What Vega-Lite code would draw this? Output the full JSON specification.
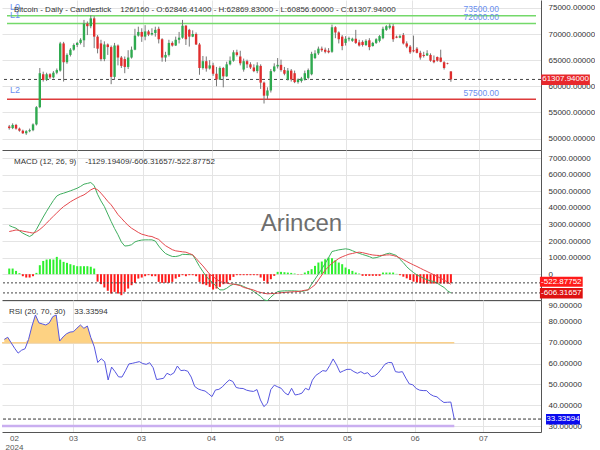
{
  "$schema": "https://vega.github.io/schema/vega-lite/v6.json",
  "padding": 0,
  "background": "#ffffff",
  "spacing": 0,
  "bounds": "flush",
  "config": {
    "font": "Liberation Sans",
    "view": {"stroke": null},
    "axis": {"labelFont": "Liberation Sans", "labelFontSize": 8, "labelColor": "#333333", "gridColor": "#e4e4e4", "domainColor": "#555555", "ticks": false, "title": null, "labelOverlap": false}
  },
  "datasets": {
    "bars": [
      {"i":0,"o":52300,"h":52600,"l":51700,"c":52000,"macd":2938,"sig":2576,"hist":342,"rsi":71.6},
      {"i":1,"o":52000,"h":52900,"l":51800,"c":52600,"macd":2850,"sig":2620,"hist":342,"rsi":72.6},
      {"i":2,"o":52600,"h":52800,"l":51700,"c":51900,"macd":2777,"sig":2670,"hist":200,"rsi":69.9},
      {"i":3,"o":51900,"h":52100,"l":51300,"c":51500,"macd":2620,"sig":2640,"hist":60,"rsi":67.3},
      {"i":4,"o":51500,"h":51700,"l":50900,"c":51000,"macd":2475,"sig":2600,"hist":-121,"rsi":65.0},
      {"i":5,"o":51000,"h":51600,"l":50700,"c":51400,"macd":2370,"sig":2560,"hist":-201,"rsi":66.4},
      {"i":6,"o":51400,"h":51900,"l":51200,"c":51600,"macd":2274,"sig":2520,"hist":-201,"rsi":67.1},
      {"i":7,"o":51600,"h":52900,"l":51400,"c":52700,"macd":2400,"sig":2480,"hist":-121,"rsi":71.5},
      {"i":8,"o":52700,"h":56200,"l":52500,"c":56000,"macd":2700,"sig":2560,"hist":80,"rsi":78},
      {"i":9,"o":56000,"h":63500,"l":55800,"c":62500,"macd":3079,"sig":2700,"hist":543,"rsi":83.3},
      {"i":10,"o":62300,"h":62800,"l":60900,"c":61200,"macd":3450,"sig":2877,"hist":800,"rsi":79.5},
      {"i":11,"o":61200,"h":62600,"l":61000,"c":62300,"macd":3800,"sig":3080,"hist":885,"rsi":79.0},
      {"i":12,"o":62300,"h":62500,"l":61400,"c":61700,"macd":4130,"sig":3300,"hist":905,"rsi":78.5},
      {"i":13,"o":61700,"h":62900,"l":61500,"c":62600,"macd":4450,"sig":3500,"hist":885,"rsi":79.5},
      {"i":14,"o":62600,"h":63400,"l":62300,"c":63100,"macd":4720,"sig":3700,"hist":1046,"rsi":82.5},
      {"i":15,"o":63000,"h":68500,"l":62800,"c":68200,"macd":4830,"sig":3900,"hist":885,"rsi":83.3},
      {"i":16,"o":68200,"h":68500,"l":60900,"c":64600,"macd":4890,"sig":4085,"hist":744,"rsi":70.8},
      {"i":17,"o":64600,"h":66300,"l":64300,"c":66000,"macd":4960,"sig":4220,"hist":684,"rsi":72.8},
      {"i":18,"o":66000,"h":67300,"l":65700,"c":67000,"macd":5030,"sig":4370,"hist":604,"rsi":74.3},
      {"i":19,"o":67000,"h":68200,"l":66800,"c":67900,"macd":5110,"sig":4487,"hist":543,"rsi":75.1},
      {"i":20,"o":67900,"h":68500,"l":67500,"c":68300,"macd":5190,"sig":4600,"hist":483,"rsi":75.3},
      {"i":21,"o":68300,"h":69200,"l":68000,"c":68900,"macd":5300,"sig":4700,"hist":483,"rsi":77},
      {"i":22,"o":68800,"h":72700,"l":67500,"c":72000,"macd":5433,"sig":4789,"hist":483,"rsi":78.5},
      {"i":23,"o":72000,"h":72400,"l":69800,"c":71500,"macd":5480,"sig":4930,"hist":483,"rsi":76.9},
      {"i":24,"o":71500,"h":73600,"l":71100,"c":73000,"macd":5533,"sig":5091,"hist":450,"rsi":78},
      {"i":25,"o":73000,"h":73400,"l":67300,"c":69500,"macd":5350,"sig":5191,"hist":342,"rsi":72.5},
      {"i":26,"o":69500,"h":69800,"l":66300,"c":67200,"macd":4820,"sig":5100,"hist":-450,"rsi":68},
      {"i":27,"o":68200,"h":68900,"l":64800,"c":65200,"macd":4420,"sig":4890,"hist":-600,"rsi":60.5},
      {"i":28,"o":65200,"h":68600,"l":64800,"c":68000,"macd":4085,"sig":4650,"hist":-800,"rsi":62.3},
      {"i":29,"o":68000,"h":68200,"l":66000,"c":67500,"macd":3630,"sig":4400,"hist":-1000,"rsi":60.9},
      {"i":30,"o":67500,"h":67800,"l":60400,"c":61800,"macd":3180,"sig":4186,"hist":-1167,"rsi":52.1},
      {"i":31,"o":61800,"h":68300,"l":61200,"c":67800,"macd":2760,"sig":3900,"hist":-1066,"rsi":58.3},
      {"i":32,"o":67800,"h":68000,"l":64000,"c":65500,"macd":2380,"sig":3600,"hist":-1167,"rsi":56.1},
      {"i":33,"o":65500,"h":65800,"l":63500,"c":63900,"macd":1950,"sig":3381,"hist":-1268,"rsi":53.6},
      {"i":34,"o":65200,"h":65700,"l":62500,"c":63700,"macd":1700,"sig":3150,"hist":-1066,"rsi":53.5},
      {"i":35,"o":63700,"h":66900,"l":63300,"c":65500,"macd":1720,"sig":2950,"hist":-865,"rsi":56.5},
      {"i":36,"o":65500,"h":67600,"l":65300,"c":67000,"macd":1780,"sig":2777,"hist":-664,"rsi":59.8},
      {"i":37,"o":67000,"h":71000,"l":66900,"c":69700,"macd":1950,"sig":2650,"hist":-523,"rsi":60.1},
      {"i":38,"o":69700,"h":71400,"l":69500,"c":70400,"macd":2020,"sig":2520,"hist":-262,"rsi":60.5},
      {"i":39,"o":70400,"h":71100,"l":68500,"c":69500,"macd":2060,"sig":2415,"hist":-201,"rsi":60.9},
      {"i":40,"o":69500,"h":71700,"l":68800,"c":70500,"macd":2073,"sig":2360,"hist":-121,"rsi":60},
      {"i":41,"o":70500,"h":70800,"l":69600,"c":69900,"macd":2073,"sig":2300,"hist":-60,"rsi":59.6},
      {"i":42,"o":69900,"h":71100,"l":69700,"c":70200,"macd":2073,"sig":2274,"hist":-121,"rsi":60.4},
      {"i":43,"o":70200,"h":71400,"l":69500,"c":70800,"macd":2000,"sig":2180,"hist":-121,"rsi":58},
      {"i":44,"o":71000,"h":71400,"l":68200,"c":69000,"macd":1700,"sig":2100,"hist":-463,"rsi":52.3},
      {"i":45,"o":69000,"h":69200,"l":64700,"c":65500,"macd":1450,"sig":1900,"hist":-523,"rsi":52.6},
      {"i":46,"o":65500,"h":66600,"l":64700,"c":66000,"macd":1250,"sig":1720,"hist":-523,"rsi":52.9},
      {"i":47,"o":66000,"h":68900,"l":65700,"c":68300,"macd":1150,"sig":1600,"hist":-523,"rsi":55.3},
      {"i":48,"o":68300,"h":68600,"l":67600,"c":67800,"macd":1070,"sig":1480,"hist":-463,"rsi":54.5},
      {"i":49,"o":67800,"h":69500,"l":67700,"c":68900,"macd":1067,"sig":1409,"hist":-262,"rsi":55.5},
      {"i":50,"o":68900,"h":70400,"l":68200,"c":69300,"macd":1110,"sig":1380,"hist":-161,"rsi":58.8},
      {"i":51,"o":69300,"h":72700,"l":69100,"c":71600,"macd":1200,"sig":1350,"hist":-60,"rsi":56.6},
      {"i":52,"o":71600,"h":71700,"l":67900,"c":69000,"macd":1190,"sig":1328,"hist":-121,"rsi":56.8},
      {"i":53,"o":70800,"h":71000,"l":67600,"c":69500,"macd":1180,"sig":1250,"hist":-60,"rsi":56.3},
      {"i":54,"o":69500,"h":70700,"l":69400,"c":70000,"macd":1167,"sig":1167,"hist":-60,"rsi":53.5},
      {"i":55,"o":70000,"h":70300,"l":67900,"c":68000,"macd":830,"sig":950,"hist":-121,"rsi":49},
      {"i":56,"o":68000,"h":68300,"l":62200,"c":63500,"macd":470,"sig":720,"hist":-463,"rsi":47.8},
      {"i":57,"o":63500,"h":65800,"l":63200,"c":64800,"macd":160,"sig":500,"hist":-604,"rsi":47.2},
      {"i":58,"o":64800,"h":65700,"l":62800,"c":63400,"macd":-140,"sig":250,"hist":-664,"rsi":46.8},
      {"i":59,"o":63400,"h":65000,"l":63200,"c":64000,"macd":-350,"sig":0,"hist":-765,"rsi":45.5},
      {"i":60,"o":64000,"h":64500,"l":62000,"c":62400,"macd":-543,"sig":-150,"hist":-926,"rsi":44.1},
      {"i":61,"o":62400,"h":63700,"l":60000,"c":61300,"macd":-750,"sig":-300,"hist":-865,"rsi":47.3},
      {"i":62,"o":61300,"h":63800,"l":61200,"c":63500,"macd":-945,"sig":-442,"hist":-765,"rsi":47.6},
      {"i":63,"o":63500,"h":63700,"l":59800,"c":61900,"macd":-945,"sig":-500,"hist":-604,"rsi":48.8},
      {"i":64,"o":61900,"h":64700,"l":61800,"c":64200,"macd":-850,"sig":-543,"hist":-523,"rsi":50.6},
      {"i":65,"o":64200,"h":65700,"l":64000,"c":64900,"macd":-700,"sig":-580,"hist":-362,"rsi":52.1},
      {"i":66,"o":64900,"h":66900,"l":64700,"c":66500,"macd":-600,"sig":-600,"hist":-161,"rsi":51.4},
      {"i":67,"o":66500,"h":67000,"l":65700,"c":66000,"macd":-620,"sig":-642,"hist":-60,"rsi":48.5},
      {"i":68,"o":65700,"h":66800,"l":64000,"c":64400,"macd":-660,"sig":-690,"hist":-60,"rsi":48.1},
      {"i":69,"o":63200,"h":65300,"l":62800,"c":64800,"macd":-740,"sig":-800,"hist":-60,"rsi":48.0},
      {"i":70,"o":64800,"h":65100,"l":63500,"c":64200,"macd":-840,"sig":-850,"hist":-60,"rsi":47.2},
      {"i":71,"o":64200,"h":64600,"l":63300,"c":63600,"macd":-920,"sig":-900,"hist":-60,"rsi":46.8},
      {"i":72,"o":63600,"h":64200,"l":62700,"c":62900,"macd":-1050,"sig":-960,"hist":-60,"rsi":46.6},
      {"i":73,"o":62900,"h":64600,"l":62500,"c":64000,"macd":-1200,"sig":-1045,"hist":-60,"rsi":47.5},
      {"i":74,"o":63900,"h":64200,"l":59500,"c":60700,"macd":-1340,"sig":-1100,"hist":-201,"rsi":42.5},
      {"i":75,"o":60700,"h":60900,"l":56700,"c":58200,"macd":-1550,"sig":-1150,"hist":-402,"rsi":39.3},
      {"i":76,"o":58200,"h":59800,"l":57500,"c":59200,"macd":-1600,"sig":-1185,"hist":-563,"rsi":40.9},
      {"i":77,"o":59200,"h":63300,"l":58800,"c":62900,"macd":-1380,"sig":-1170,"hist":-302,"rsi":47.5},
      {"i":78,"o":62900,"h":64400,"l":62700,"c":63800,"macd":-1200,"sig":-1160,"hist":-100,"rsi":49.6},
      {"i":79,"o":63800,"h":65400,"l":63400,"c":64100,"macd":-1050,"sig":-1145,"hist":141,"rsi":48.8},
      {"i":80,"o":64100,"h":65100,"l":62800,"c":63100,"macd":-1020,"sig":-1120,"hist":141,"rsi":48.1},
      {"i":81,"o":63100,"h":63700,"l":62100,"c":62400,"macd":-1004,"sig":-1100,"hist":121,"rsi":46},
      {"i":82,"o":61300,"h":63500,"l":61100,"c":63000,"macd":-1004,"sig":-1085,"hist":100,"rsi":44.9},
      {"i":83,"o":63000,"h":63300,"l":60900,"c":61300,"macd":-1004,"sig":-1070,"hist":80,"rsi":48.1},
      {"i":84,"o":62500,"h":63000,"l":60600,"c":60800,"macd":-1004,"sig":-1055,"hist":40,"rsi":44.9},
      {"i":85,"o":60800,"h":61500,"l":60500,"c":61300,"macd":-1020,"sig":-1045,"hist":-20,"rsi":45.2},
      {"i":86,"o":61000,"h":61800,"l":60700,"c":61500,"macd":-1045,"sig":-1010,"hist":-20,"rsi":45.8},
      {"i":87,"o":61300,"h":63000,"l":61100,"c":62500,"macd":-1000,"sig":-970,"hist":100,"rsi":48.1},
      {"i":88,"o":61600,"h":63400,"l":61300,"c":63100,"macd":-944,"sig":-944,"hist":200,"rsi":47.3},
      {"i":89,"o":62300,"h":66600,"l":62100,"c":66200,"macd":-600,"sig":-800,"hist":302,"rsi":52},
      {"i":90,"o":65400,"h":66900,"l":65200,"c":66300,"macd":-300,"sig":-642,"hist":503,"rsi":54.3},
      {"i":91,"o":66300,"h":67600,"l":66000,"c":67200,"macd":0,"sig":-350,"hist":704,"rsi":55.4},
      {"i":92,"o":67200,"h":67600,"l":66600,"c":66900,"macd":320,"sig":-50,"hist":765,"rsi":56.6},
      {"i":93,"o":67000,"h":67400,"l":66300,"c":66600,"macd":650,"sig":250,"hist":905,"rsi":56.3},
      {"i":94,"o":66800,"h":67300,"l":66300,"c":66500,"macd":1000,"sig":450,"hist":1006,"rsi":59},
      {"i":95,"o":66600,"h":71800,"l":66400,"c":71300,"macd":1370,"sig":666,"hist":966,"rsi":62.2},
      {"i":96,"o":71300,"h":71500,"l":69200,"c":70300,"macd":1420,"sig":800,"hist":845,"rsi":59.3},
      {"i":97,"o":70300,"h":70500,"l":68200,"c":69000,"macd":1470,"sig":950,"hist":704,"rsi":55.7},
      {"i":98,"o":69500,"h":69800,"l":66900,"c":67700,"macd":1500,"sig":1050,"hist":604,"rsi":56.5},
      {"i":99,"o":68300,"h":69600,"l":67800,"c":69100,"macd":1531,"sig":1130,"hist":402,"rsi":57.2},
      {"i":100,"o":69000,"h":69500,"l":68600,"c":69200,"macd":1500,"sig":1209,"hist":302,"rsi":57.2},
      {"i":101,"o":68700,"h":69300,"l":68500,"c":69100,"macd":1420,"sig":1250,"hist":201,"rsi":56.1},
      {"i":102,"o":69100,"h":70800,"l":68100,"c":68300,"macd":1330,"sig":1300,"hist":100,"rsi":55.3},
      {"i":103,"o":68400,"h":68900,"l":67600,"c":67800,"macd":1260,"sig":1330,"hist":40,"rsi":56.1},
      {"i":104,"o":68500,"h":68800,"l":67600,"c":67900,"macd":1190,"sig":1300,"hist":-100,"rsi":55.1},
      {"i":105,"o":67900,"h":69000,"l":67700,"c":68700,"macd":1128,"sig":1250,"hist":-100,"rsi":55.6},
      {"i":106,"o":68800,"h":69200,"l":66900,"c":67500,"macd":1060,"sig":1200,"hist":-100,"rsi":53.7},
      {"i":107,"o":67700,"h":68500,"l":67600,"c":68300,"macd":970,"sig":1160,"hist":-100,"rsi":54},
      {"i":108,"o":68300,"h":69200,"l":68100,"c":69000,"macd":1000,"sig":1140,"hist":-100,"rsi":55.4},
      {"i":109,"o":68700,"h":69800,"l":68400,"c":69600,"macd":1060,"sig":1128,"hist":-100,"rsi":57.5},
      {"i":110,"o":69200,"h":71400,"l":69000,"c":71000,"macd":1150,"sig":1140,"hist":100,"rsi":59.7},
      {"i":111,"o":70800,"h":71700,"l":70600,"c":71500,"macd":1230,"sig":1160,"hist":100,"rsi":60.5},
      {"i":112,"o":71200,"h":72000,"l":70900,"c":71600,"macd":1269,"sig":1169,"hist":100,"rsi":60.4},
      {"i":113,"o":71500,"h":71900,"l":68500,"c":69000,"macd":1200,"sig":1130,"hist":100,"rsi":56.1},
      {"i":114,"o":69500,"h":69700,"l":69200,"c":69300,"macd":1128,"sig":1068,"hist":20,"rsi":55.8},
      {"i":115,"o":69300,"h":69900,"l":69200,"c":69600,"macd":900,"sig":980,"hist":-60,"rsi":56.1},
      {"i":116,"o":69800,"h":70200,"l":68000,"c":68200,"macd":700,"sig":880,"hist":-150,"rsi":53},
      {"i":117,"o":68200,"h":68600,"l":67300,"c":67600,"macd":450,"sig":766,"hist":-250,"rsi":50.2},
      {"i":118,"o":67600,"h":67900,"l":66200,"c":66500,"macd":263,"sig":660,"hist":-350,"rsi":49.8},
      {"i":119,"o":66900,"h":69700,"l":66500,"c":66700,"macd":100,"sig":560,"hist":-450,"rsi":48},
      {"i":120,"o":67200,"h":67500,"l":66300,"c":66400,"macd":-50,"sig":464,"hist":-503,"rsi":47.2},
      {"i":121,"o":66400,"h":66800,"l":65100,"c":65500,"macd":-140,"sig":360,"hist":-540,"rsi":47},
      {"i":122,"o":66000,"h":66600,"l":65500,"c":65800,"macd":-250,"sig":260,"hist":-563,"rsi":47},
      {"i":123,"o":65900,"h":66900,"l":65800,"c":66300,"macd":-340,"sig":163,"hist":-563,"rsi":45.3},
      {"i":124,"o":66000,"h":66300,"l":64700,"c":64900,"macd":-400,"sig":60,"hist":-563,"rsi":44.4},
      {"i":125,"o":65000,"h":65900,"l":64400,"c":64600,"macd":-441,"sig":-40,"hist":-563,"rsi":44},
      {"i":126,"o":65600,"h":65700,"l":64700,"c":64900,"macd":-540,"sig":-139,"hist":-563,"rsi":42.5},
      {"i":127,"o":65500,"h":67000,"l":64600,"c":64700,"macd":-680,"sig":-250,"hist":-563,"rsi":41.3},
      {"i":128,"o":64600,"h":64800,"l":63200,"c":63500,"macd":-800,"sig":-350,"hist":-563,"rsi":41.4},
      {"i":129,"o":64450,"h":64500,"l":64200,"c":64350,"macd":-1000,"sig":-480,"hist":-563,"rsi":41.5},
      {"i":130,"o":62846.414,"h":62869.83,"l":60856.6,"c":61307.94,"macd":-1129.19409,"sig":-606.31657,"hist":-522.87752,"rsi":33.33594}
    ],
    "levels": [
      {"level": 73500, "label": "73500.00", "tag": "L0", "kind": "resistance"},
      {"level": 72000, "label": "72000.00", "tag": "L1", "kind": "resistance"},
      {"level": 57500, "label": "57500.00", "tag": "L2", "kind": "support"}
    ]
  },
  "vconcat": [
    {
      "width": 539,
      "height": 150,
      "layer": [
        {
          "data": {"name": "levels"},
          "mark": {"type": "rule", "strokeWidth": 1.5},
          "encoding": {
            "x": {"datum": -0.66, "scale": {"domain": [-0.66, 155.05], "nice": false, "zero": false}, "axis": {"values": [19.85, 39.5, 59.7, 79.35, 99, 118.6, 138.3], "tickCount": 30, "labels": false, "grid": true, "domain": true, "orient": "bottom"}},
            "x2": {"datum": 155.05},
            "y": {"field": "level", "type": "quantitative", "scale": {"domain": [47804, 76512], "nice": false, "zero": false}, "axis": {"orient": "right", "values": [50000, 55000, 60000, 65000, 70000, 75000], "tickCount": 30, "format": ".5f", "grid": true, "labelPadding": 7, "labelFlush": false, "labelOverlap": false}},
            "color": {"field": "kind", "type": "nominal", "scale": {"domain": ["resistance", "support"], "range": ["#74d96a", "#dd3b3b"]}, "legend": null}
          }
        },
        {
          "data": {"values": [{"last": 61307.94}]},
          "mark": {"type": "rule", "color": "#444444", "strokeWidth": 1, "strokeDash": [3, 3]},
          "encoding": {"y": {"field": "last", "type": "quantitative", "scale": {"domain": [47804, 76512], "nice": false, "zero": false}}}
        },
        {
          "data": {"name": "bars"},
          "mark": {"type": "rule", "color": "#777777", "strokeWidth": 1},
          "encoding": {
            "x": {"field": "i", "type": "quantitative", "scale": {"domain": [-0.66, 155.05], "nice": false, "zero": false}},
            "y": {"field": "l", "type": "quantitative", "scale": {"domain": [47804, 76512], "nice": false, "zero": false}},
            "y2": {"field": "h"}
          }
        },
        {
          "data": {"name": "bars"},
          "mark": {"type": "bar", "width": 2.4},
          "encoding": {
            "x": {"field": "i", "type": "quantitative", "scale": {"domain": [-0.66, 155.05], "nice": false, "zero": false}},
            "y": {"field": "o", "type": "quantitative", "scale": {"domain": [47804, 76512], "nice": false, "zero": false}},
            "y2": {"field": "c"},
            "color": {"condition": {"test": "datum.c >= datum.o", "value": "#2faa4f"}, "value": "#e02d2d"}
          }
        },
        {
          "data": {"name": "levels"},
          "mark": {"type": "text", "align": "left", "baseline": "bottom", "dy": -1.5, "fontSize": 8.5, "color": "#6a8ff0"},
          "encoding": {
            "x": {"datum": 133.7},
            "y": {"field": "level", "type": "quantitative", "scale": {"domain": [47804, 76512], "nice": false, "zero": false}},
            "text": {"field": "label"}
          }
        },
        {
          "data": {"name": "levels"},
          "mark": {"type": "text", "align": "left", "baseline": "bottom", "dx": 3, "dy": -4, "fontSize": 9, "color": "#6a8ff0"},
          "encoding": {
            "x": {"datum": -0.66},
            "y": {"field": "level", "type": "quantitative", "scale": {"domain": [47804, 76512], "nice": false, "zero": false}},
            "text": {"field": "tag"}
          }
        },
        {
          "data": {"values": [{"t": "Bitcoin - Daily - Candlestick\u00a0\u00a0\u00a0 126/160 - O:62846.41400 - H:62869.83000 - L:60856.60000 - C:61307.94000"}]},
          "mark": {"type": "text", "align": "left", "baseline": "middle", "dx": 7, "fontSize": 8, "color": "#333333"},
          "encoding": {"x": {"datum": -0.66}, "y": {"datum": 74541}, "text": {"field": "t"}}
        },
        {
          "data": {"values": [{"label": "61307.94000"}]},
          "mark": {"type": "rect", "color": "#e8282c"},
          "encoding": {"x": {"datum": 156.6}, "x2": {"datum": 170.9}, "y": {"datum": 62250}, "y2": {"datum": 60250}}
        },
        {
          "data": {"values": [{"label": "61307.94000", "last": 61307.94}]},
          "mark": {"type": "text", "align": "center", "baseline": "middle", "fontSize": 8, "color": "#ffffff"},
          "encoding": {"x": {"datum": 163.75}, "y": {"field": "last", "type": "quantitative", "scale": {"domain": [47804, 76512], "nice": false, "zero": false}}, "text": {"field": "label"}}
        }
      ]
    },
    {
      "width": 539,
      "height": 150,
      "layer": [
        {
          "data": {"name": "bars"},
          "mark": {"type": "bar", "width": 2},
          "encoding": {
            "x": {"field": "i", "type": "quantitative", "scale": {"domain": [-0.66, 155.05], "nice": false, "zero": false}, "axis": {"values": [19.85, 39.5, 59.7, 79.35, 99, 118.6, 138.3], "tickCount": 30, "labels": false, "grid": true, "domain": true, "orient": "bottom"}},
            "y": {"field": "hist", "type": "quantitative", "scale": {"domain": [-1557, 7496], "nice": false, "zero": false}, "axis": {"orient": "right", "values": [0, 1000, 2000, 3000, 4000, 5000, 6000, 7000], "tickCount": 30, "labelExpr": "datum.value === 0 ? '0' : format(datum.value, '.5f')", "grid": true, "labelPadding": 7, "labelFlush": false, "labelOverlap": false}},
            "y2": {"datum": 0},
            "color": {"condition": {"test": "datum.hist >= 0", "value": "#2ef02e"}, "value": "#ff1a1a"}
          }
        },
        {
          "data": {"name": "bars"},
          "mark": {"type": "line", "color": "#3fae5f", "strokeWidth": 1},
          "encoding": {
            "x": {"field": "i", "type": "quantitative", "scale": {"domain": [-0.66, 155.05], "nice": false, "zero": false}},
            "y": {"field": "macd", "type": "quantitative", "scale": {"domain": [-1557, 7496], "nice": false, "zero": false}}
          }
        },
        {
          "data": {"name": "bars"},
          "mark": {"type": "line", "color": "#e5484d", "strokeWidth": 1},
          "encoding": {
            "x": {"field": "i", "type": "quantitative", "scale": {"domain": [-0.66, 155.05], "nice": false, "zero": false}},
            "y": {"field": "sig", "type": "quantitative", "scale": {"domain": [-1557, 7496], "nice": false, "zero": false}}
          }
        },
        {
          "data": {"values": [{"last": -522.87752}, {"last": -1129.19409}]},
          "mark": {"type": "rule", "color": "#444444", "strokeWidth": 1, "strokeDash": [2, 2]},
          "encoding": {"y": {"field": "last", "type": "quantitative", "scale": {"domain": [-1557, 7496], "nice": false, "zero": false}}}
        },
        {
          "data": {"values": [{"t": "MACD (12, 26, 9)\u00a0\u00a0\u00a0 -1129.19409/-606.31657/-522.87752"}]},
          "mark": {"type": "text", "align": "left", "baseline": "middle", "dx": 7, "fontSize": 8, "color": "#333333"},
          "encoding": {"x": {"datum": -0.66}, "y": {"datum": 6801}, "text": {"field": "t"}}
        },
        {
          "data": {"values": [{"t": "Arincen"}]},
          "mark": {"type": "text", "align": "center", "baseline": "middle", "fontSize": 24, "color": "#6e6e6e"},
          "encoding": {"x": {"datum": 86}, "y": {"datum": 3030}, "text": {"field": "t"}}
        },
        {
          "data": {"values": [{"label": "-522.87752"}]},
          "mark": {"type": "rect", "color": "#ff1a1a"},
          "encoding": {"x": {"datum": 156.2}, "x2": {"datum": 168.8}, "y": {"datum": -151}, "y2": {"datum": -754}}
        },
        {
          "data": {"values": [{"label": "-606.31657"}]},
          "mark": {"type": "rect", "color": "#dd1111"},
          "encoding": {"x": {"datum": 156.2}, "x2": {"datum": 168.8}, "y": {"datum": -833}, "y2": {"datum": -1467}}
        },
        {
          "data": {"values": [{"label": "-522.87752", "pos": -453}, {"label": "-606.31657", "pos": -1150}]},
          "mark": {"type": "text", "align": "center", "baseline": "middle", "fontSize": 8, "color": "#ffffff"},
          "encoding": {"x": {"datum": 162.5}, "y": {"field": "pos", "type": "quantitative", "scale": {"domain": [-1557, 7496], "nice": false, "zero": false}}, "text": {"field": "label"}}
        }
      ]
    },
    {
      "width": 539,
      "height": 132,
      "layer": [
        {
          "data": {"name": "bars"},
          "transform": [{"calculate": "max(datum.rsi, 70)", "as": "overbought"}],
          "mark": {"type": "area", "color": "#fdd283", "opacity": 1},
          "encoding": {
            "x": {"field": "i", "type": "quantitative", "scale": {"domain": [-0.66, 155.05], "nice": false, "zero": false}, "axis": {"values": [2.8, 19.85, 39.5, 59.7, 79.35, 99, 118.6, 138.3], "tickCount": 30, "grid": true, "gridOpacity": {"condition": {"test": "datum.value < 5", "value": 0}, "value": 1}, "domain": true, "orient": "bottom", "labelExpr": "datum.value < 5 ? ['02', '2024'] : datum.value < 50 ? '03' : datum.value < 70 ? '04' : datum.value < 110 ? '05' : datum.value < 130 ? '06' : '07'", "labelColor": "#555555", "labelPadding": 2, "labelLineHeight": 9, "labelFlush": false, "labelBound": false, "labelOverlap": false}},
            "y": {"field": "overbought", "type": "quantitative", "scale": {"domain": [27.12, 90.5], "nice": false, "zero": false}, "axis": {"orient": "right", "values": [30, 40, 50, 60, 70, 80, 90], "tickCount": 30, "format": ".5f", "grid": true, "labelPadding": 7, "labelFlush": 4, "labelOverlap": false}},
            "y2": {"datum": 70}
          }
        },
        {
          "data": {"values": [{"band": "overbought"}]},
          "mark": {"type": "rule", "color": "#fad08a", "strokeWidth": 1.5},
          "encoding": {"x": {"datum": -0.66}, "x2": {"datum": 130}, "y": {"datum": 70}}
        },
        {
          "data": {"values": [{"band": "oversold"}]},
          "mark": {"type": "rule", "color": "#c9aef0", "strokeWidth": 2.5},
          "encoding": {"x": {"datum": -0.66}, "x2": {"datum": 130}, "y": {"datum": 30}}
        },
        {
          "data": {"values": [{"last": 33.33594}]},
          "mark": {"type": "rule", "color": "#333333", "strokeWidth": 1, "strokeDash": [3, 2]},
          "encoding": {"y": {"field": "last", "type": "quantitative", "scale": {"domain": [27.12, 90.5], "nice": false, "zero": false}}}
        },
        {
          "data": {"name": "bars"},
          "mark": {"type": "line", "color": "#5656e0", "strokeWidth": 1},
          "encoding": {
            "x": {"field": "i", "type": "quantitative", "scale": {"domain": [-0.66, 155.05], "nice": false, "zero": false}},
            "y": {"field": "rsi", "type": "quantitative", "scale": {"domain": [27.12, 90.5], "nice": false, "zero": false}}
          }
        },
        {
          "data": {"values": [{"t": "RSI (20, 70, 30)\u00a0\u00a0\u00a0 33.33594"}]},
          "mark": {"type": "text", "align": "left", "baseline": "middle", "dx": 7, "fontSize": 8, "color": "#333333"},
          "encoding": {"x": {"datum": -0.66}, "y": {"datum": 84.6}, "text": {"field": "t"}}
        },
        {
          "data": {"values": [{"label": "33.33594"}]},
          "mark": {"type": "rect", "color": "#0a0aee"},
          "encoding": {"x": {"datum": 156.5}, "x2": {"datum": 166.3}, "y": {"datum": 35.77}, "y2": {"datum": 30.73}}
        },
        {
          "data": {"values": [{"label": "33.33594", "last": 33.33594}]},
          "mark": {"type": "text", "align": "center", "baseline": "middle", "fontSize": 8, "color": "#ffffff"},
          "encoding": {"x": {"datum": 161.4}, "y": {"field": "last", "type": "quantitative", "scale": {"domain": [27.12, 90.5], "nice": false, "zero": false}}, "text": {"field": "label"}}
        }
      ]
    }
  ]
}
